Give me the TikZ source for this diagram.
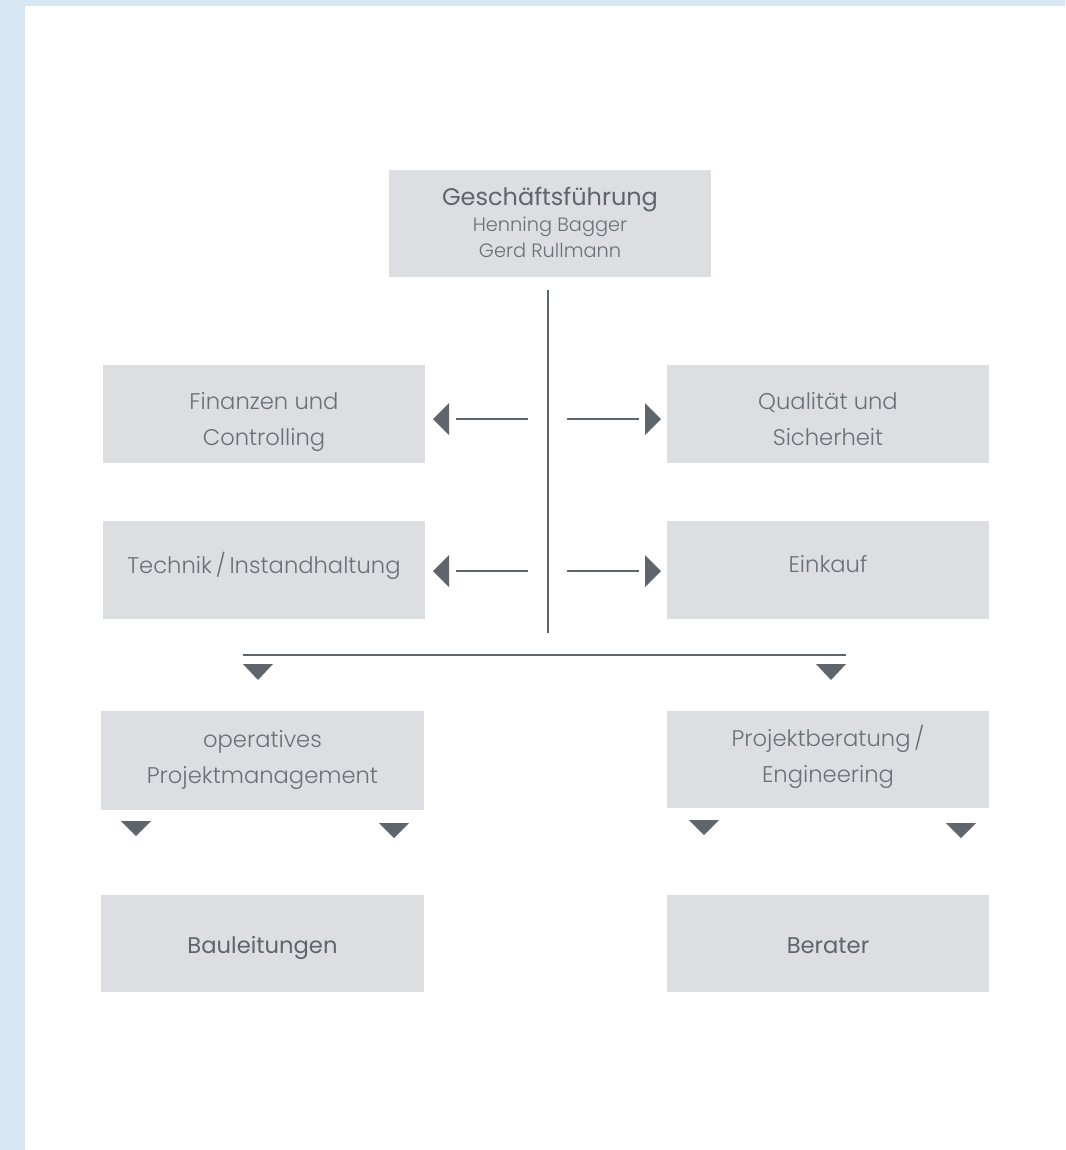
\documentclass[tikz,border=0pt]{standalone}
\usepackage{fontspec}
\setmainfont{Poppins}[UprightFont=* Light, BoldFont=* Regular]
\newfontfamily\regfont{Poppins}
\definecolor{bgblue}{HTML}{D6E6F2}
\definecolor{boxfill}{HTML}{DCDEE2}
\definecolor{txtgray}{HTML}{6A7077}
\definecolor{darkgray}{HTML}{5E656C}
\newcommand\htop[1]{\rule{0pt}{#1}}
\newcommand\dbot[1]{\rule[-#1]{0pt}{0pt}}
\tikzset{
  orgbox/.style={fill=boxfill, draw=none, minimum width=322*0.75pt, minimum height=98*0.75pt,
    inner sep=0pt, align=center, text=txtgray, font=\fontsize{17}{27}\selectfont},
  endbox/.style={orgbox, font=\regfont\fontsize{17}{27}\selectfont, text=darkgray},
  link/.style={draw=darkgray, line width=1.1pt},
  tri/.style={fill=darkgray, draw=none}
}
\begin{document}
\begin{tikzpicture}[x=0.75pt,y=-0.75pt]
\useasboundingbox (0,0) rectangle (1065,1150);
\fill[bgblue] (0,0) rectangle (1065,1150);
\fill[white] (25,6) rectangle (1065,1150);

% boxes
\node[orgbox, minimum height=107*0.75pt, font=\fontsize{14.5}{19.5}\selectfont] (gf) at (550,223.5)
  {\htop{16pt}{\regfont\fontsize{18}{19.5}\selectfont\color{darkgray}Geschäftsführung}\\
   Henning Bagger\\
   Gerd Rullmann\dbot{4.75pt}};
\node[orgbox] (fin) at (264,414) {\htop{26pt}Finanzen und\\Controlling\dbot{6.5pt}};
\node[orgbox] (qual) at (828,414) {\htop{26pt}Qualität und\\Sicherheit\dbot{6.5pt}};
\node[orgbox] (tech) at (264,570) {\htop{16pt}Technik\,/\,Instandhaltung\dbot{11.5pt}};
\node[orgbox] (ein) at (828,570) {\htop{16pt}Einkauf\dbot{13pt}};
\node[orgbox, minimum width=323*0.75pt, minimum height=99*0.75pt] (op) at (262.5,760.5)
  {\htop{18pt}operatives\\Projektmanagement\dbot{11.25pt}};
\node[orgbox, minimum height=97*0.75pt] (pb) at (828,759.5)
  {\htop{18pt}Projektberatung\,/\\Engineering\dbot{11.25pt}};
\node[endbox, minimum width=323*0.75pt, minimum height=97*0.75pt] (bau) at (262.5,943.5)
  {\htop{20pt}Bauleitungen\dbot{5.75pt}};
\node[endbox, minimum height=97*0.75pt] (ber) at (828,943.5)
  {\htop{20pt}Berater\dbot{5.75pt}};

% spine
\coordinate (vtop) at (548,290);
\coordinate (vbot) at (548,633);
\draw[link] (vtop) -- (vbot);

% side arrows row 1
\coordinate (l1a) at (528,419); \coordinate (l1b) at (456,419);
\coordinate (r1a) at (567,419); \coordinate (r1b) at (639,419);
\draw[link] (l1a) -- (l1b);
\draw[link] (r1a) -- (r1b);
\fill[tri] (433,419) -- (449,403) -- (449,435) -- cycle;
\fill[tri] (661,419) -- (645,403) -- (645,435) -- cycle;
% side arrows row 2
\coordinate (l2a) at (528,571); \coordinate (l2b) at (456,571);
\coordinate (r2a) at (567,571); \coordinate (r2b) at (639,571);
\draw[link] (l2a) -- (l2b);
\draw[link] (r2a) -- (r2b);
\fill[tri] (433,571) -- (449,555) -- (449,587) -- cycle;
\fill[tri] (661,571) -- (645,555) -- (645,587) -- cycle;

% horizontal bar
\coordinate (hl) at (243,655); \coordinate (hr) at (846,655);
\draw[link] (hl) -- (hr);
\fill[tri] (243,664) -- (273,664) -- (258,680) -- cycle;
\fill[tri] (816,664) -- (846,664) -- (831,680) -- cycle;

% lower triangles
\fill[tri] (121,821) -- (151,821) -- (136,836) -- cycle;
\fill[tri] (379,823) -- (409,823) -- (394,838) -- cycle;
\fill[tri] (689,820) -- (719,820) -- (704,835) -- cycle;
\fill[tri] (946,823) -- (976,823) -- (961,838) -- cycle;
\end{tikzpicture}
\end{document}
